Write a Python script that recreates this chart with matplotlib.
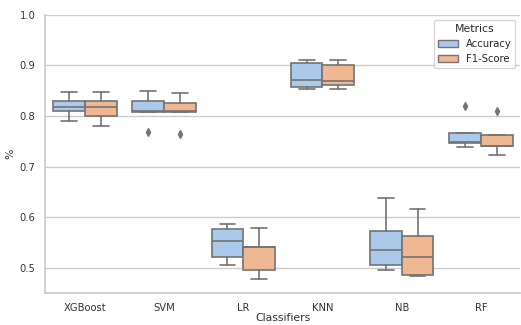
import matplotlib
matplotlib.use("Agg")
import matplotlib.pyplot as plt
from matplotlib.patches import Patch
import seaborn as sns
import colorsys

classifiers = ["XGBoost", "SVM", "LR", "KNN", "NB", "RF"]
metrics = ["Accuracy", "F1-Score"]

# box stats
acc_lo  = [0.789, 0.808, 0.506, 0.854, 0.496, 0.739]
acc_q1  = [0.809, 0.808, 0.521, 0.857, 0.506, 0.747]
acc_med = [0.818, 0.809, 0.553, 0.870, 0.536, 0.748]
acc_q3  = [0.829, 0.830, 0.576, 0.904, 0.572, 0.767]
acc_hi  = [0.848, 0.850, 0.586, 0.910, 0.638, 0.767]
acc_fly = [[], [0.768], [], [], [], [0.819]]

f1_lo  = [0.781, 0.808, 0.478, 0.853, 0.483, 0.722]
f1_q1  = [0.799, 0.808, 0.496, 0.861, 0.486, 0.740]
f1_med = [0.818, 0.810, 0.541, 0.868, 0.521, 0.741]
f1_q3  = [0.829, 0.826, 0.542, 0.900, 0.563, 0.762]
f1_hi  = [0.848, 0.846, 0.578, 0.910, 0.617, 0.762]
f1_fly = [[], [0.764], [], [], [], [0.810]]

sns.set_theme(style="whitegrid")
plt.rcParams['font.family'] = ['DejaVu Sans']

pal = sns.color_palette("pastel")[:2]
cols = [sns.desaturate(c, 0.75) for c in pal]
lum = min(colorsys.rgb_to_hls(*c)[1] for c in cols) * 0.6
gray = (lum, lum, lum)

fig, ax = plt.subplots(figsize=(5.21, 3.25), dpi=100)
fig.subplots_adjust(left=0.087, right=0.999, top=0.955, bottom=0.098)

series = [
    (acc_lo, acc_q1, acc_med, acc_q3, acc_hi, acc_fly),
    (f1_lo, f1_q1, f1_med, f1_q3, f1_hi, f1_fly),
]
for h, (lo, q1, med, q3, hi, fly) in enumerate(series):
    stats = []
    for i in range(len(classifiers)):
        stats.append(dict(whislo=lo[i], q1=q1[i], med=med[i], q3=q3[i],
                          whishi=hi[i], fliers=fly[i]))
    pos = [i - 0.2 + 0.4 * h for i in range(len(classifiers))]
    ax.bxp(stats, positions=pos, widths=0.4, patch_artist=True,
           showfliers=True, manage_ticks=False,
           boxprops=dict(facecolor=cols[h], edgecolor=gray, linewidth=1.2),
           medianprops=dict(color=gray, linewidth=1.2),
           whiskerprops=dict(color=gray, linewidth=1.2),
           capprops=dict(color=gray, linewidth=1.2),
           flierprops=dict(marker="d", markerfacecolor=gray,
                           markeredgecolor=gray, markersize=4))

ax.set_xticks(range(len(classifiers)))
ax.set_xticklabels(classifiers)
ax.set_xlim(-0.5, len(classifiers) - 0.5)
ax.set_ylim(0.45, 1.0)
ax.set_yticks([0.5, 0.6, 0.7, 0.8, 0.9, 1.0])
ax.grid(axis="x", visible=False)
ax.tick_params(labelsize=7.2, colors="#333333", pad=1)
ax.set_xlabel("Classifiers", fontsize=7.8, color="#333333", labelpad=0)
ax.set_ylabel("%", fontsize=7.8, color="#333333", labelpad=3)
for s in ["top", "right"]:
    ax.spines[s].set_visible(False)

handles = [Patch(facecolor=cols[h], edgecolor=gray, label=metrics[h]) for h in range(2)]
leg = ax.legend(handles=handles, title="Metrics", loc="upper right",
                fontsize=7.2, title_fontsize=7.8, frameon=True)

fig.savefig("out.png", dpi=100)
